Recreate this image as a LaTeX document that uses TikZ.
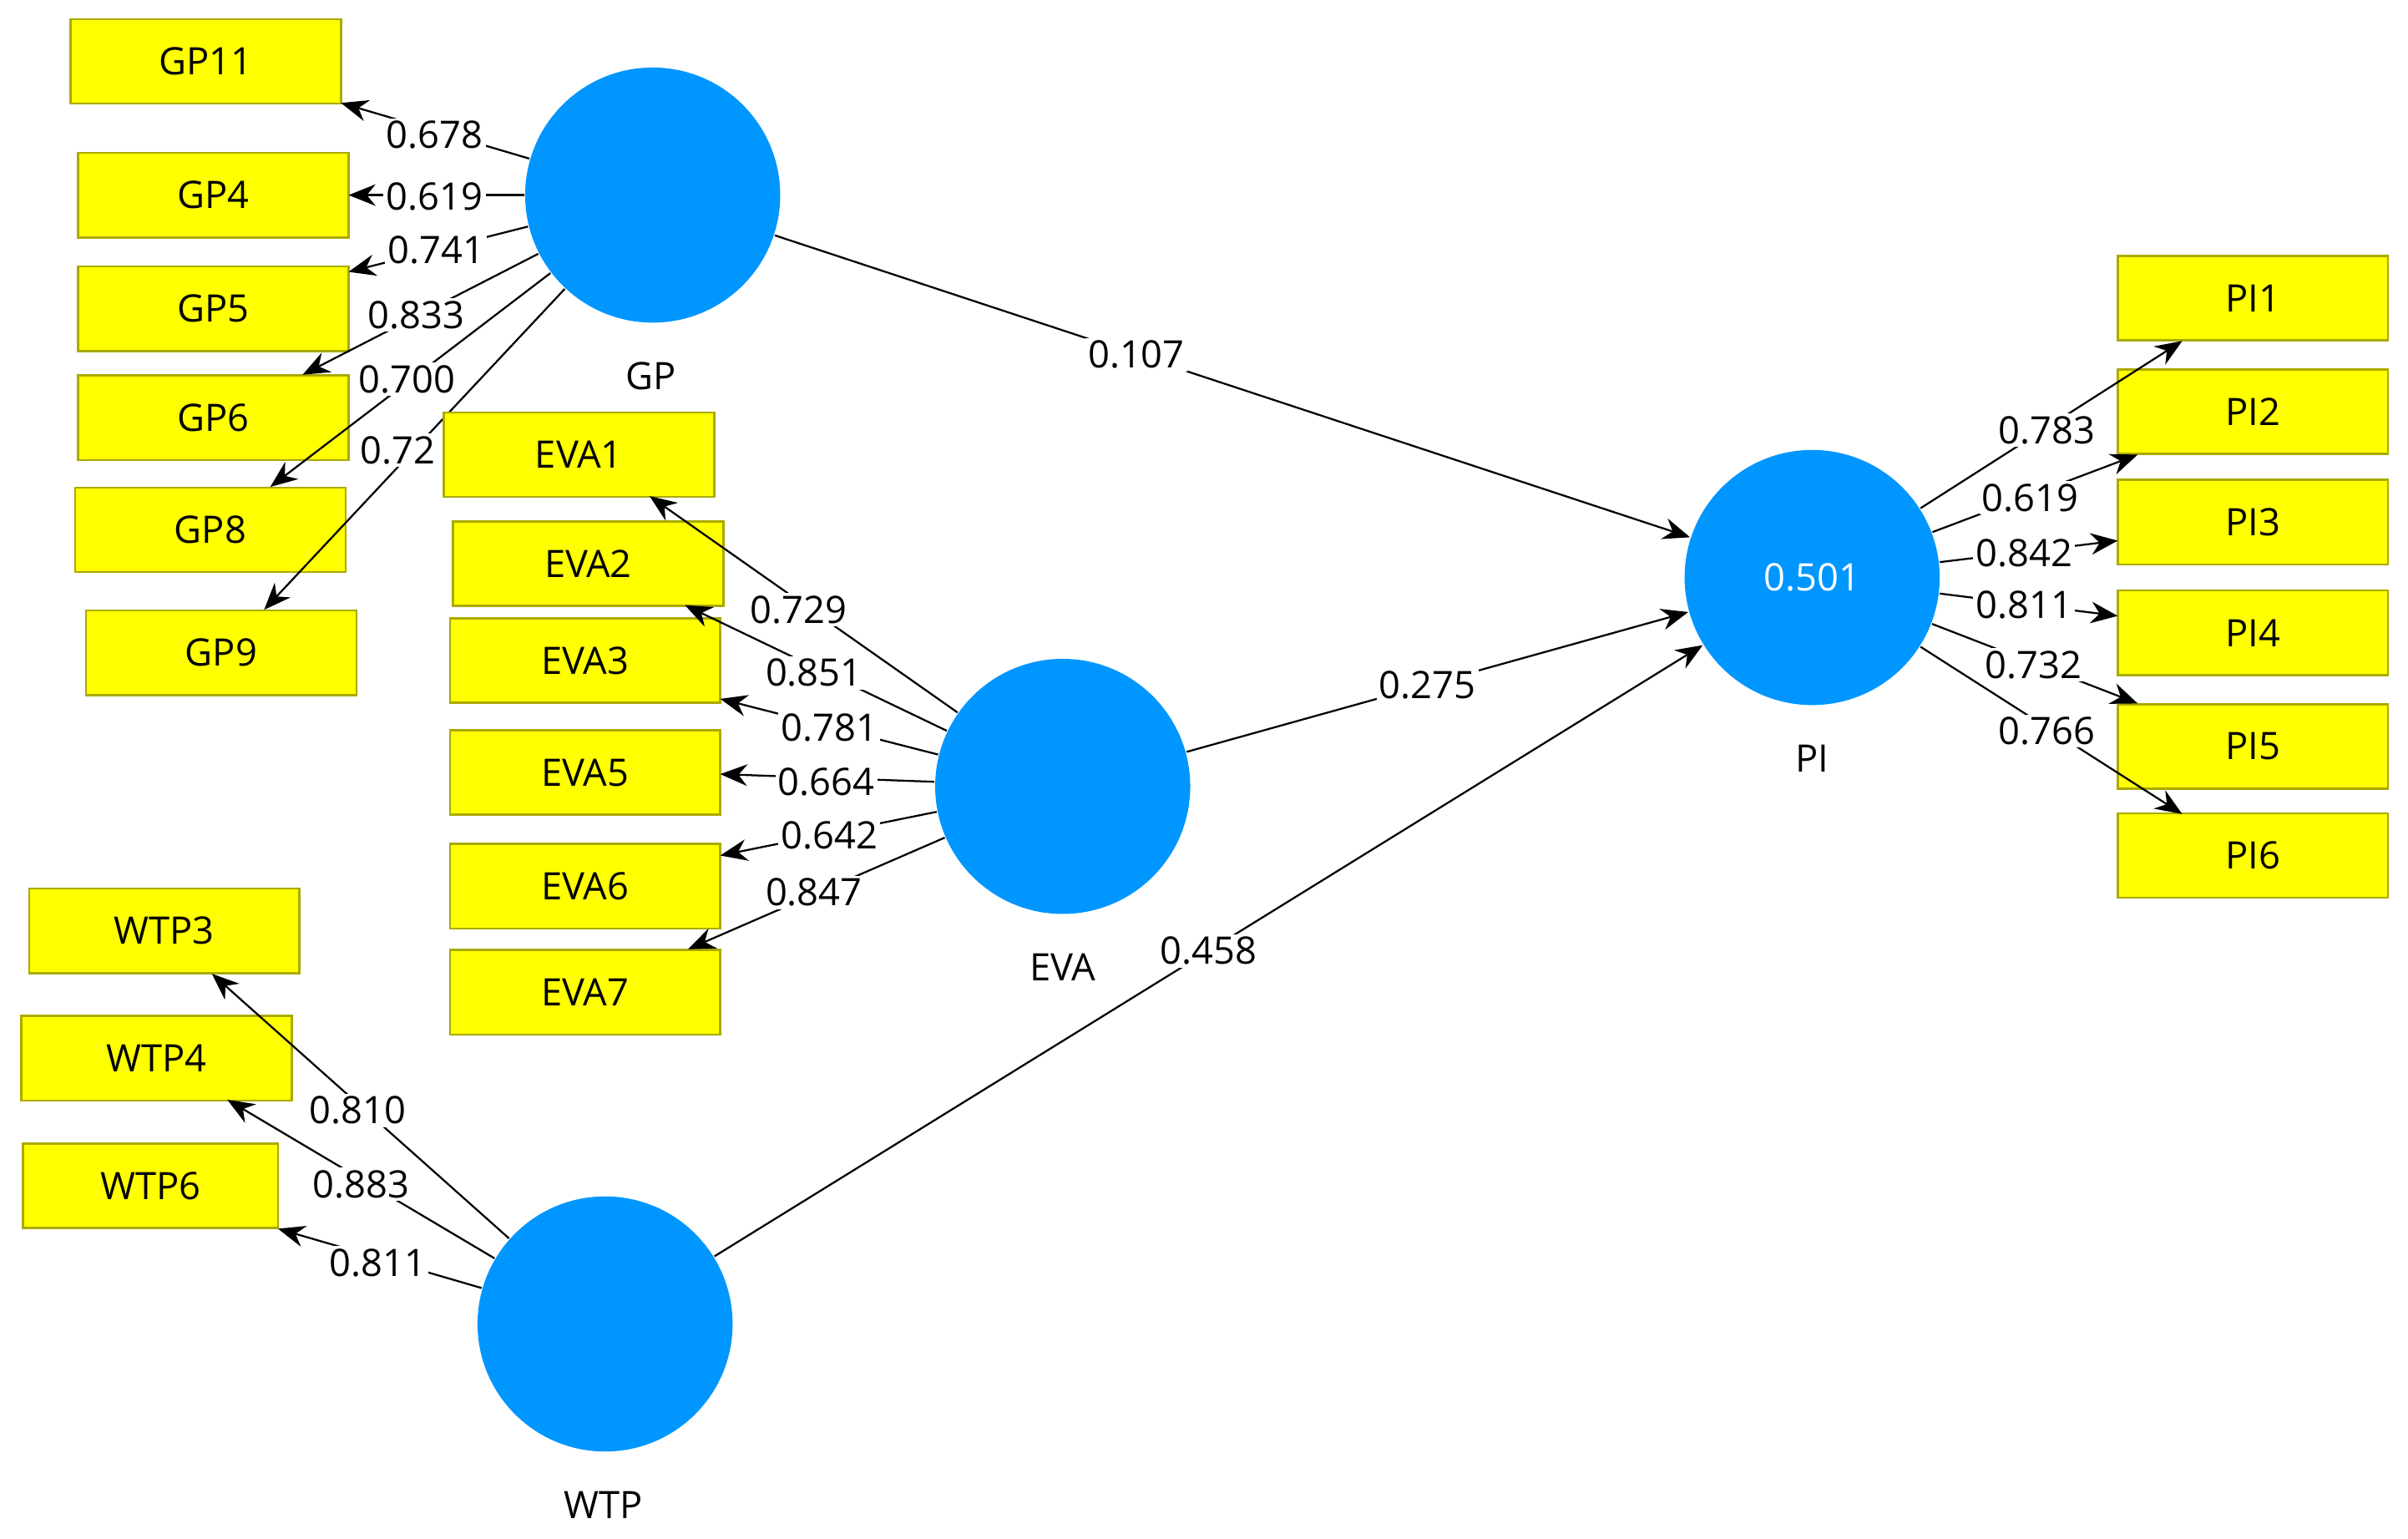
\documentclass[tikz,border=0pt]{standalone}
\usepackage{fontspec}
\setmainfont{Open Sans}
\usetikzlibrary{arrows.meta,calc}
\definecolor{lv}{RGB}{0,150,255}
\definecolor{yb}{RGB}{255,255,0}
\definecolor{yd}{RGB}{170,170,0}
\begin{document}
\begin{tikzpicture}[x=0.01cm,y=-0.01cm,
  box/.style={draw=yd,fill=yb,minimum width=1.76cm,minimum height=0.55cm,inner sep=0pt,font=\fontsize{7}{8}\selectfont},
  lat/.style={circle,fill=lv,minimum size=1.66cm,inner sep=0pt,font=\fontsize{7}{8}\selectfont,text=white},
  lvcap/.style={font=\fontsize{7}{8}\selectfont},
  lab/.style={fill=white,inner sep=0.5pt,font=\fontsize{7}{8}\selectfont},
  arr/.style={-{Stealth[length=5pt,width=4pt]},line width=0.35pt}]
\useasboundingbox (0,0) rectangle (1568,1002);
\node[box] (GP11) at (134,40) {GP11};
\node[box] (GP4) at (139,127) {GP4};
\node[box] (GP5) at (139,201) {GP5};
\node[box] (GP6) at (139,272) {GP6};
\node[box] (GP8) at (137,345) {GP8};
\node[box] (GP9) at (144,425) {GP9};
\node[box] (WTP3) at (107,606) {WTP3};
\node[box] (WTP4) at (102,689) {WTP4};
\node[box,minimum width=1.66cm] (WTP6) at (98,772) {WTP6};
\foreach \n/\y in {1/194,2/268,3/340,4/412,5/486,6/557}{\node[box] (PI\n) at (1467,\y) {PI\n};}
\node[lat] (GP) at (425,127) {};
\node[lat] (EVA) at (692,512) {};
\node[lat] (WTP) at (394,862) {};
\node[lat] (PI) at (1180,376) {0.501};
\node[lvcap] (cGP) at (424,245) {GP};
\node[lvcap] (cEVA) at (692,630) {EVA};
\node[lvcap] (cWTP) at (393,980) {WTP};
\node[lvcap] (cPI) at (1180,494) {PI};
% GP loadings
\coordinate (g1) at (222,67); \coordinate (g2) at (227,127); \coordinate (g3) at (227,177);
\coordinate (g4) at (197,244); \coordinate (g5) at (176,317); \coordinate (g6) at (172,397);
\foreach \c in {g1,g2,g3,g4,g5,g6}{\draw[arr] (GP) -- (\c);}
\node[lab] at (283,88) {0.678};
\node[lab] at (283,128) {0.619};
\node[lab] at (284,163) {0.741};
\node[lab] at (271,205) {0.833};
\node[lab] at (265,247) {0.700};
\node[lab] at (259,293) {0.72};
% EVA boxes (drawn over GP lines)
\node[box] (EVA1) at (377,296) {EVA1};
\node[box] (EVA2) at (383,367) {EVA2};
\node[box] (EVA3) at (381,430) {EVA3};
\node[box] (EVA5) at (381,503) {EVA5};
\node[box] (EVA6) at (381,577) {EVA6};
\node[box] (EVA7) at (381,646) {EVA7};
\coordinate (e1) at (423,323); \coordinate (e2) at (446,394); \coordinate (e3) at (469,455);
\coordinate (e4) at (469,504); \coordinate (e5) at (469,557); \coordinate (e6) at (448,618);
\foreach \c in {e1,e2,e3,e4,e5,e6}{\draw[arr] (EVA) -- (\c);}
\node[lab] at (520,397) {0.729};
\node[lab] at (530,438) {0.851};
\node[lab] at (540,474) {0.781};
\node[lab] at (538,509) {0.664};
\node[lab] at (540,544) {0.642};
\node[lab] at (530,581) {0.847};
% WTP
\coordinate (w1) at (138,634); \coordinate (w2) at (148,716); \coordinate (w3) at (181,800);
\foreach \c in {w1,w2,w3}{\draw[arr] (WTP) -- (\c);}
\node[lab] at (233,723) {0.810};
\node[lab] at (235,771) {0.883};
\node[lab] at (246,822) {0.811};
% PI
\coordinate (p1) at (1421,222); \coordinate (p2) at (1392,296); \coordinate (p3) at (1379,352);
\coordinate (p4) at (1379,401); \coordinate (p5) at (1392,458); \coordinate (p6) at (1421,530);
\foreach \c in {p1,p2,p3,p4,p5,p6}{\draw[arr] (PI) -- (\c);}
\node[lab] at (1333,280) {0.783};
\node[lab] at (1322,324) {0.619};
\node[lab] at (1318,360) {0.842};
\node[lab] at (1318,394) {0.811};
\node[lab] at (1324,433) {0.732};
\node[lab] at (1333,476) {0.766};
% structural
\draw[arr] (GP) -- (PI) node[lab,pos=0.395] {0.107};
\draw[arr] (EVA) -- (PI) node[lab,pos=0.48] {0.275};
\draw[arr] (WTP) -- (PI) node[lab,pos=0.50] {0.458};
\end{tikzpicture}
\end{document}
